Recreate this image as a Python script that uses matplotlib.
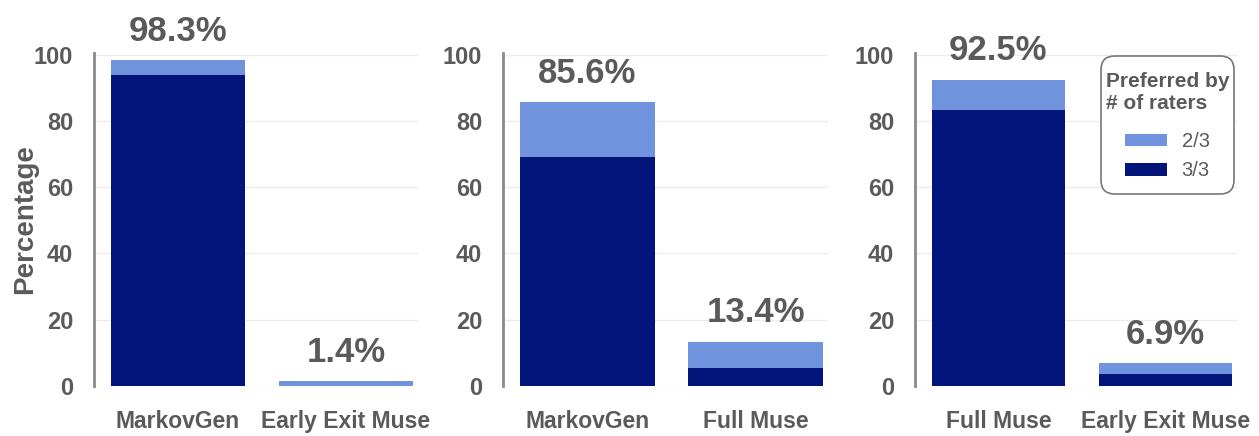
import matplotlib
matplotlib.use("Agg")
import matplotlib.pyplot as plt
from matplotlib.patches import Patch, FancyBboxPatch

plt.rcParams['font.family'] = ['Liberation Sans', 'DejaVu Sans']

# ---- data ----
panel_categories = [
    ["MarkovGen", "Early Exit Muse"],
    ["MarkovGen", "Full Muse"],
    ["Full Muse", "Early Exit Muse"],
]
all_agree = [            # preferred by 3/3 raters
    [94.0, 0.0],
    [69.0, 5.3],
    [83.2, 3.6],
]
two_agree = [            # preferred by 2/3 raters
    [4.3, 1.4],
    [16.6, 8.1],
    [9.3, 3.3],
]
total_labels = [
    ["98.3%", "1.4%"],
    ["85.6%", "13.4%"],
    ["92.5%", "6.9%"],
]
yticks = [0, 20, 40, 60, 80, 100]

DARK = "#03157a"
LIGHT = "#6f93dc"
GRAY = "#5a5a5a"

W, H = 1259, 436
fig = plt.figure(figsize=(W / 100, H / 100), dpi=100)

axes_px = [(94, 418), (503, 828), (915, 1237)]
bottom_px, top_px = 386, 53

for i, (l, r) in enumerate(axes_px):
    ax = fig.add_axes([l / W, 1 - bottom_px / H, (r - l) / W, (bottom_px - top_px) / H])
    cats = panel_categories[i]
    x = list(range(len(cats)))
    ax.bar(x, all_agree[i], width=0.8, color=DARK, zorder=3)
    ax.bar(x, two_agree[i], bottom=all_agree[i], width=0.8, color=LIGHT, zorder=3)
    for j in x:
        tot = all_agree[i][j] + two_agree[i][j]
        ax.annotate(total_labels[i][j], (j, tot), xytext=(0, 9), textcoords="offset points",
                    ha="center", va="bottom", fontsize=25, fontweight="bold", color=GRAY)
    ax.set_xlim(-0.5, 1.43)
    ax.set_ylim(0, 100.5)
    ax.set_yticks(yticks)
    ax.set_yticklabels([str(t) for t in yticks], fontsize=17, fontweight="bold", color=GRAY)
    ax.set_xticks(x)
    ax.set_xticklabels(cats, fontsize=16.5, fontweight="bold", color=GRAY)
    ax.tick_params(axis="y", length=0, pad=15)
    ax.tick_params(axis="x", length=0, pad=17)
    ax.grid(axis="y", color="#ececec", linewidth=1, zorder=0)
    for s in ["top", "right", "bottom"]:
        ax.spines[s].set_visible(False)
    ax.spines["left"].set_color("#8a8a8a")
    ax.spines["left"].set_linewidth(2)
    if i == 0:
        ax.set_ylabel("Percentage", fontsize=20, fontweight="bold", color=GRAY)
        ax.yaxis.set_label_coords((38 - 94) / 324, 0.5)
    if i == 2:
        handles = [Patch(facecolor=LIGHT, label="2/3"), Patch(facecolor=DARK, label="3/3")]
        # legend frame drawn separately
        bx0, bx1, by0, by1 = 1101, 1234, 56, 194
        frame = FancyBboxPatch((bx0 / W, 1 - by1 / H), (bx1 - bx0) / W, (by1 - by0) / H,
                               boxstyle="round,pad=0,rounding_size=0.011",
                               transform=fig.transFigure, facecolor="white",
                               edgecolor="#777777", linewidth=1.2, zorder=5,
                               mutation_aspect=W / H)
        fig.patches.append(frame)
        leg = fig.legend(handles=handles, title="Preferred by\n# of raters", loc="center",
                         bbox_to_anchor=((bx0 + bx1) / 2 / W, 1 - 126 / H),
                         fontsize=14.5, title_fontsize=15, frameon=False,
                         handlelength=2.05, handleheight=0.6, borderpad=0.0,
                         labelspacing=0.5, handletextpad=0.75)
        leg._legend_box.sep = 14
        leg.set_zorder(6)
        leg.get_title().set_fontweight("bold")
        leg.get_title().set_color(GRAY)
        leg.get_title().set_multialignment("left")
        for t in leg.get_texts():
            t.set_color(GRAY)

fig.savefig("out.png", dpi=100)
